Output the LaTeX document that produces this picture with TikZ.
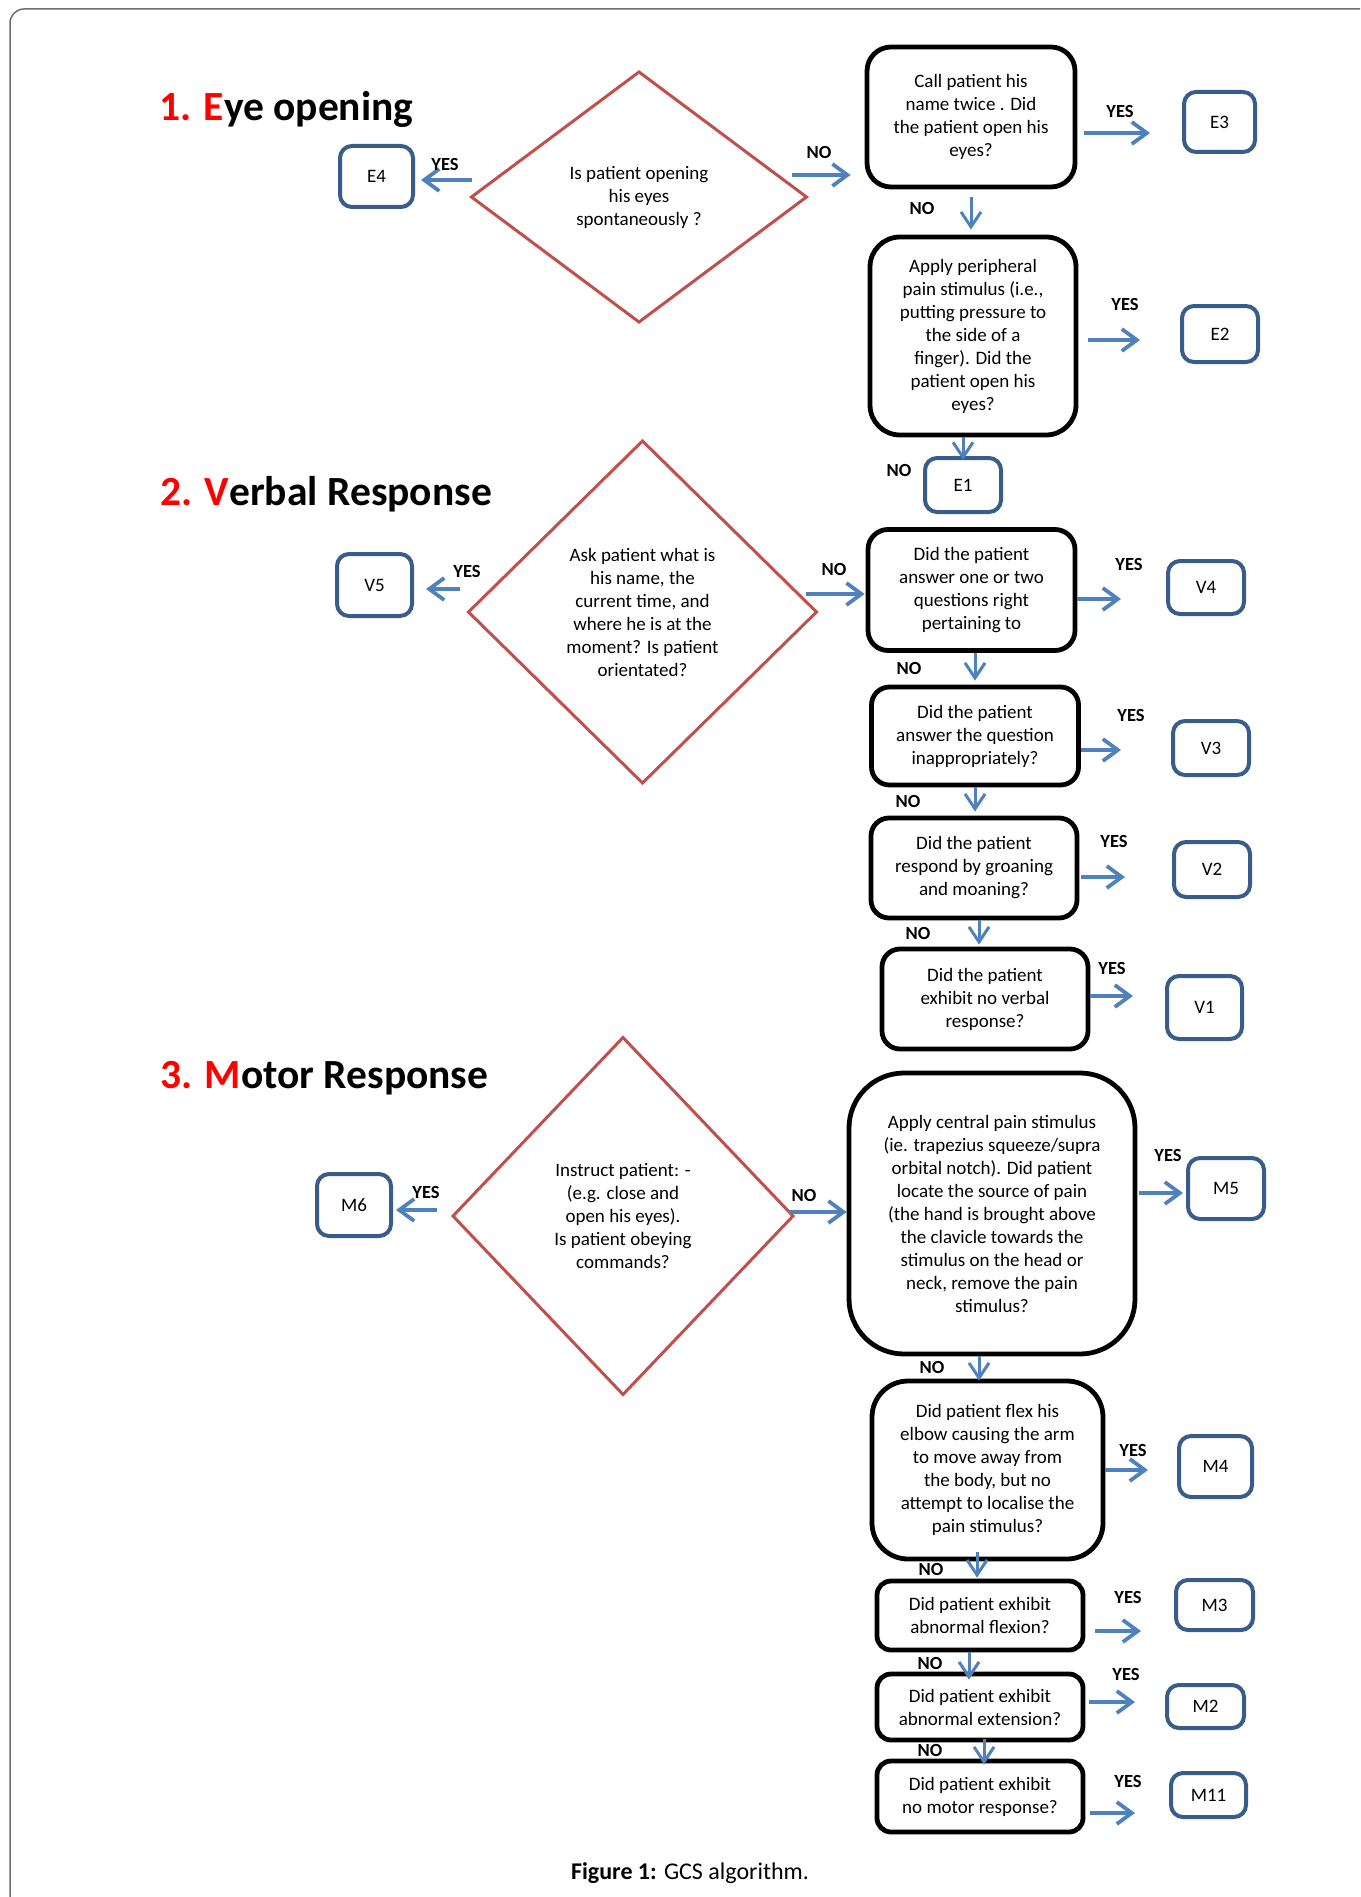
\documentclass[tikz,border=0pt]{standalone}
\usepackage{fontspec}
\setmainfont{Carlito}
\usetikzlibrary{shapes.geometric,arrows.meta,calc}
\definecolor{decred}{HTML}{C0504D}
\definecolor{arrblue}{HTML}{4F81BD}
\definecolor{resblue}{HTML}{385D8A}
\definecolor{framegray}{HTML}{6E6E6E}
\definecolor{titlered}{HTML}{FF0000}
\tikzset{
  body/.style={font=\fontsize{19}{23}\selectfont},
  procbox/.style={draw=black, line width=4.8pt, rounded corners=#1, align=center, inner sep=0pt, body},
  decbox/.style={diamond, draw=decred, line width=3pt, align=center, inner sep=0pt, outer sep=0pt, body},
  resbox/.style={draw=resblue, line width=4pt, rounded corners=12pt, inner sep=0pt, body},
  harr/.style={draw=arrblue, line width=3.8pt, -{Straight Barb[length=15pt,width=22pt]}},
  varr/.style={draw=arrblue, line width=3pt, -{Straight Barb[length=15pt,width=20pt]}},
  lab/.style={font=\bfseries\fontsize{18.5}{20}\selectfont, inner sep=0pt},
  ttl/.style={font=\bfseries\fontsize{41.5}{44}\selectfont, anchor=base west, inner sep=0pt},
}
\begin{document}
\begin{tikzpicture}[x=1pt,y=-1pt]
\useasboundingbox (0,0) rectangle (1360,1897);
\begin{scope}
\clip (0,0) rectangle (1360,1897);
\draw[framegray, line width=1.5pt, rounded corners=14pt] (10,9) rectangle (1420,1960);
\end{scope}

% titles
\node[ttl] (t1) at (159,121) {\textcolor{titlered}{1. E}ye opening};
\node[ttl] (t2) at (160,505) {\textcolor{titlered}{2. V}erbal Response};
\node[ttl] (t3) at (160,1088) {\textcolor{titlered}{3. M}otor Response};

% decisions
\node[decbox, minimum width=335pt, minimum height=250pt] (d1) at (639,197)
  {Is patient opening\\his eyes\\spontaneously ?};
\node[decbox, minimum width=348pt, minimum height=342pt] (d2) at (642.5,612)
  {Ask patient what is\\his name, the\\current time, and\\where he is at the\\moment? Is patient\\orientated?};
\node[decbox, minimum width=340pt, minimum height=357pt] (d3) at (623,1216)
  {Instruct patient: -\\(e.g. close and\\open his eyes).\\Is patient obeying\\commands?};

% process boxes
\node[procbox=24pt, minimum width=208pt, minimum height=140pt] (b1) at (971,117)
  {Call patient his\\name twice . Did\\the patient open his\\eyes?};
\node[procbox=30pt, minimum width=206pt, minimum height=198pt] (b2) at (973,336)
  {Apply peripheral\\pain stimulus (i.e.,\\putting pressure to\\the side of a\\finger). Did the\\patient open his\\eyes?};
\node[procbox=20pt, minimum width=207pt, minimum height=121pt] (b3) at (971.5,590)
  {Did the patient\\answer one or two\\questions right\\pertaining to};
\node[procbox=18pt, minimum width=207pt, minimum height=98pt] (b4) at (975,736)
  {Did the patient\\answer the question\\inappropriately?};
\node[procbox=18pt, minimum width=206pt, minimum height=100pt] (b5) at (974,868)
  {Did the patient\\respond by groaning\\and moaning?};
\node[procbox=18pt, minimum width=206pt, minimum height=100pt] (b6) at (985,999)
  {Did the patient\\exhibit no verbal\\response?};
\node[procbox=55pt, minimum width=286pt, minimum height=281pt] (b7) at (992,1213.5)
  {Apply central pain stimulus\\(ie. trapezius squeeze/supra\\orbital notch). Did patient\\locate the source of pain\\(the hand is brought above\\the clavicle towards the\\stimulus on the head or\\neck, remove the pain\\stimulus?};
\node[procbox=36pt, minimum width=231pt, minimum height=178pt] (b8) at (987.5,1470)
  {Did patient flex his\\elbow causing the arm\\to move away from\\the body, but no\\attempt to localise the\\pain stimulus?};
\node[procbox=14pt, minimum width=206pt, minimum height=69pt] (b9) at (980,1615.5)
  {Did patient exhibit\\abnormal flexion?};
\node[procbox=14pt, minimum width=206pt, minimum height=66pt] (b10) at (980,1707)
  {Did patient exhibit\\abnormal extension?};
\node[procbox=14pt, minimum width=206pt, minimum height=71pt] (b11) at (980,1796.5)
  {Did patient exhibit\\no motor response?};

% result boxes
\node[resbox, minimum width=73pt, minimum height=61pt] (e4) at (376.5,176.5) {E4};
\node[resbox, minimum width=71pt, minimum height=60pt] (e3) at (1219.5,122) {E3};
\node[resbox, minimum width=76pt, minimum height=56pt] (e2) at (1220,334) {E2};
\node[resbox, minimum width=76pt, minimum height=54pt] (e1) at (963,485) {E1};
\node[resbox, minimum width=75pt, minimum height=62pt] (v5) at (374.5,585) {V5};
\node[resbox, minimum width=76pt, minimum height=53pt] (v4) at (1206,587.5) {V4};
\node[resbox, minimum width=76pt, minimum height=54pt] (v3) at (1211,748) {V3};
\node[resbox, minimum width=76pt, minimum height=55pt] (v2) at (1212,869.5) {V2};
\node[resbox, minimum width=75pt, minimum height=63pt] (v1) at (1204.5,1007.5) {V1};
\node[resbox, minimum width=74pt, minimum height=62pt] (m6) at (354,1205) {M6};
\node[resbox, minimum width=76pt, minimum height=61pt] (m5) at (1226,1188.5) {M5};
\node[resbox, minimum width=73pt, minimum height=61pt] (m4) at (1215.5,1466.5) {M4};
\node[resbox, minimum width=77pt, minimum height=50pt] (m3) at (1214.5,1605) {M3};
\node[resbox, minimum width=77pt, minimum height=43pt] (m2) at (1205.5,1706.5) {M2};
\node[resbox, minimum width=75pt, minimum height=44pt] (m11) at (1208.5,1795) {M11};

% arrows - eye
\draw[harr, shorten >=6pt] (d1.west |- 0,180) -- (e4.east |- 0,180);
\draw[harr, shorten <=-15pt, shorten >=14pt] (d1.east |- 0,175) -- (b1.west |- 0,175);
\draw[harr, shorten <=7pt, shorten >=32pt] (b1.east |- 0,133) -- (e3.west |- 0,133);
\draw[varr, shorten <=8pt, shorten >=5pt] (b1.south) -- (b1.south |- b2.north);
\draw[harr, shorten <=10pt, shorten >=40pt] (b2.east |- 0,340) -- (e2.west |- 0,340);
\draw[varr, shorten >=-4pt] (e1.north |- b2.south) -- (e1.north);
% arrows - verbal
\draw[harr, shorten <=8.5pt, shorten >=12pt] (d2.west |- 0,589) -- (v5.east |- 0,589);
\draw[harr, shorten <=-10.5pt, shorten >=1pt] (d2.east |- 0,594) -- (b3.west |- 0,594);
\draw[harr, shorten >=45pt] (b3.east |- 0,599) -- (v4.west |- 0,599);
\draw[varr, shorten >=4pt] (b4.north |- b3.south) -- (b4.north);
\draw[harr, shorten >=50pt] (b4.east |- 0,750) -- (v3.west |- 0,750);
\draw[varr, shorten >=4pt] (b4.south) -- (b4.south |- b5.north);
\draw[harr, shorten <=2pt, shorten >=47pt] (b5.east |- 0,877) -- (v2.west |- 0,877);
\draw[varr, shorten >=2pt] ([xshift=5pt]b5.south) -- ([xshift=5pt]b5.south |- b6.north);
\draw[harr, shorten >=32pt] (b6.east |- 0,996) -- (v1.west |- 0,996);
% arrows - motor
\draw[harr, shorten <=16pt, shorten >=3pt] (d3.west |- 0,1210) -- (m6.east |- 0,1210);
\draw[harr, shorten <=-4pt] (d3.east |- 0,1212) -- (b7.west |- 0,1212);
\draw[harr, shorten <=2pt, shorten >=3pt] (b7.east |- 0,1193) -- (m5.west |- 0,1193);
\draw[varr, shorten >=-2pt] ([xshift=-13pt]b7.south) -- ([xshift=-13pt]b7.south |- b8.north);
\draw[harr, shorten >=29pt] (b8.east |- 0,1470) -- (m4.west |- 0,1470);
\draw[varr, shorten <=-9pt, shorten >=1pt] ([xshift=-3pt]b9.north |- b8.south) -- ([xshift=-3pt]b9.north);
\draw[harr, shorten <=10pt, shorten >=33pt] (b9.east |- 0,1631) -- (m3.west |- 0,1631);
\draw[varr, shorten >=-8pt] ([xshift=-11pt]b9.south) -- ([xshift=-11pt]b9.south |- b10.north);
\draw[harr, shorten <=4pt, shorten >=30pt] (b10.east |- 0,1702) -- (m2.west |- 0,1702);
\draw[varr, shorten <=-3pt, shorten >=-6pt] ([xshift=4pt]b10.south) -- ([xshift=4pt]b10.south |- b11.north);
\draw[harr, shorten <=5pt, shorten >=34pt] (b11.east |- 0,1813) -- (m11.west |- 0,1813);

% labels
\node[lab] (l1) at (445,164) {YES};
\node[lab] (l2) at (819,152) {NO};
\node[lab] (l3) at (1120,111) {YES};
\node[lab] (l4) at (922,208) {NO};
\node[lab] (l5) at (1125,304) {YES};
\node[lab] (l6) at (899,470) {NO};
\node[lab] (l7) at (467,571) {YES};
\node[lab] (l8) at (834,569) {NO};
\node[lab] (l9) at (1129,564) {YES};
\node[lab] (l10) at (909,668) {NO};
\node[lab] (l11) at (1131,715) {YES};
\node[lab] (l12) at (908,801) {NO};
\node[lab] (l13) at (1114,841) {YES};
\node[lab] (l14) at (918,933) {NO};
\node[lab] (l15) at (1112,968) {YES};
\node[lab] (l16) at (426,1192) {YES};
\node[lab] (l17) at (804,1195) {NO};
\node[lab] (l18) at (1168,1155) {YES};
\node[lab] (l19) at (932,1367) {NO};
\node[lab] (l20) at (1133,1450) {YES};
\node[lab] (l21) at (931,1569) {NO};
\node[lab] (l22) at (1128,1597) {YES};
\node[lab] (l23) at (930,1663) {NO};
\node[lab] (l24) at (1126,1674) {YES};
\node[lab] (l25) at (930,1750) {NO};
\node[lab] (l26) at (1128,1781) {YES};

% caption
\node[font=\fontsize{24}{26}\selectfont, inner sep=0pt] (cap) at (690,1873) {\textbf{Figure 1:} GCS algorithm.};
\end{tikzpicture}
\end{document}
